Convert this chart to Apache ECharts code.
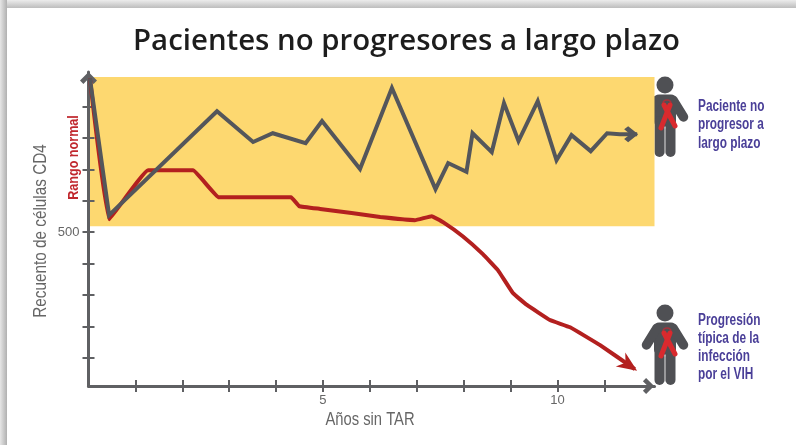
<!DOCTYPE html>
<html><head><meta charset="utf-8">
<style>html,body{margin:0;padding:0;background:#fff}#c{width:796px;height:445px}</style>
<script src="https://cdn.jsdelivr.net/npm/echarts@6/dist/echarts.min.js"></script>
</head><body><div id="c"></div>
<script>
// ----- data -----
const titleText = 'Pacientes no progresores a largo plazo';
const xAxisName = 'Años sin TAR';
const yAxisName = 'Recuento de células CD4';
const bandName = 'Rango normal';
const topPatientLabel = 'Paciente no\nprogresor a\nlargo plazo';
const lowPatientLabel = 'Progresión\ntípica de la\ninfección\npor el VIH';
const xTicks = [1,2,3,4,5,6,7,8,9,10,11];
const xLabels = [5,10];
const yTicks = [100,200,300,400,500,600,700,800,900];
const yLabels = [500];
const normalRange = [519,994];
const nonProgressor = [[0.03,990],[0.44,554],[2.74,885],[3.51,787],[3.93,815],[4.63,783],[4.98,854],[5.79,701],[6.47,959],[7.40,637],[7.67,720],[8.06,692],[8.19,815],[8.60,755],[8.86,911],[9.17,790],[9.58,917],[9.98,729],[10.30,809],[10.71,758],[11.06,815],[11.33,812],[11.70,812]];
const typical = [[0.03,990],[0.44,541],[1.27,697],[2.23,697],[2.78,611],[4.32,611],[4.49,583],[4.94,574],[5.61,561],[6.22,548],[6.96,538],[7.32,551],[7.56,532],[7.98,487],[8.41,430],[8.73,379],[9.05,306],[9.35,268],[9.84,220],[10.27,197],[10.91,140],[11.65,64]];
// ----- end of data -----

const XMAX = 12.07, YMIN = 10, YMAX = 1010;
const GRAY='#54565b', AXIS='#5f6063', RED='#b3201f', YEL='#fdd870', PUR='#4a3f98', TXT='#666666';
const SANS='"Liberation Sans",sans-serif';
const chevron='path://M0 10 L10 0 L20 10 L16 14 L10 8 L4 14 Z';
const chart=echarts.init(document.getElementById('c'),null,{renderer:'canvas'});

function person(cx,cy){
  const dark='#4f5054';
  const line=(pts,w,c)=>({type:'polyline',x:cx,y:cy,shape:{points:pts},style:{stroke:c||dark,lineWidth:w,lineCap:'round',lineJoin:'round',fill:null}});
  const curve=(x1,y1,x2,y2,a,b,c,d)=>({type:'bezierCurve',x:cx,y:cy,shape:{x1,y1,x2,y2,cpx1:a,cpy1:b,cpx2:c,cpy2:d},style:{stroke:'#a8323a',lineWidth:1.6,fill:null}});
  return [
    {type:'circle',x:cx,y:cy,shape:{r:8.5},style:{fill:dark}},
    {type:'rect',x:cx,y:cy,shape:{x:-11,y:9.5,width:22,height:32,r:5},style:{fill:dark}},
    line([[-8,15],[-18.5,32]],9.5), line([[8,15],[18.5,32]],9.5),
    line([[-5.5,36],[-5.5,67]],10), line([[5.5,36],[5.5,67]],10),
    line([[0,44],[0,68]],1,'#8a8a8c'),
    curve(2,27,2,15,-4,21,-3,15), curve(2,15,2,27,7,15,8,21),
    line([[-1,20],[10,41]],5,'#d92a2e'), line([[5,20],[-4,43]],5,'#d92a2e')
  ];
}
function side(text,x,y,lh){
  return {type:'text',x,y,scaleX:0.74,style:{text,fill:PUR,font:'bold 16px '+SANS,lineHeight:lh,textVerticalAlign:'top',textAlign:'left'}};
}

const baseX={type:'value',min:0,max:XMAX,z:2,splitLine:{show:false}};
const baseY={type:'value',min:YMIN,max:YMAX,z:2,splitLine:{show:false}};
chart.setOption({
  animation:false,
  backgroundColor:'#fff',
  title:{text:titleText,left:401.5,top:22,textAlign:'center',textStyle:{fontFamily:'"Open Sans",sans-serif',fontWeight:600,fontSize:29.4,color:'#1d1d1d'}},
  grid:{left:88.5,right:141.5,top:72,bottom:59},
  xAxis:[
    Object.assign({},baseX,{
      axisLine:{show:true,symbol:['none',chevron],symbolSize:[16,15],symbolOffset:[0,-6],lineStyle:{color:AXIS,width:3}},
      axisTick:{show:true,length:6,customValues:xTicks,lineStyle:{color:AXIS,width:2}},
      axisLabel:{customValues:xLabels,margin:8,fontFamily:SANS,fontSize:13,color:TXT}
    }),
    Object.assign({},baseX,{position:'bottom',axisLine:{show:false},axisLabel:{show:false},
      axisTick:{show:true,inside:true,length:6,customValues:xTicks,lineStyle:{color:AXIS,width:2}}})
  ],
  yAxis:[
    Object.assign({},baseY,{
      axisLine:{show:true,symbol:['none',chevron],symbolSize:[17,14],symbolOffset:[0,-6],lineStyle:{color:AXIS,width:3}},
      axisTick:{show:true,length:6,customValues:yTicks,lineStyle:{color:AXIS,width:2}},
      axisLabel:{customValues:yLabels,margin:9,fontFamily:SANS,fontSize:13,color:TXT}
    }),
    Object.assign({},baseY,{position:'left',axisLine:{show:false},axisLabel:{show:false},
      axisTick:{show:true,inside:true,length:6,customValues:yTicks,lineStyle:{color:AXIS,width:2}}})
  ],
  series:[
    {type:'line',name:'band',data:[],silent:true,markArea:{silent:true,z:0,itemStyle:{color:YEL,opacity:1},
      data:[[{xAxis:0,yAxis:normalRange[0]},{xAxis:XMAX,yAxis:normalRange[1]}]]}},
    {type:'line',name:'typical',z:3,data:typical,symbol:'none',smooth:0.08,lineStyle:{color:RED,width:4,join:'round'}},
    {type:'line',name:'nonProgressor',z:4,data:nonProgressor,symbol:'none',lineStyle:{color:GRAY,width:4,join:'miter'}},
    {type:'scatter',z:4,data:[nonProgressor[nonProgressor.length-1]],symbol:chevron,symbolSize:[16,14],symbolRotate:-90,symbolOffset:[-6,0],itemStyle:{color:GRAY,opacity:1}},
    {type:'scatter',z:3,data:[typical[typical.length-1]],symbol:'path://M10 0 L20 20 L10 14 L0 20 Z',symbolSize:[17,20],symbolRotate:-124,symbolOffset:[-6,-4],itemStyle:{color:RED,opacity:1}}
  ],
  graphic:{elements:[
    {type:'rect',x:0,y:0,z:-10,shape:{width:796,height:8},style:{fill:new echarts.graphic.LinearGradient(0,0,0,1,[{offset:0,color:'#ececec'},{offset:1,color:'#bdbdbd'}])}},
    {type:'rect',x:0,y:0,z:-10,shape:{width:7,height:445},style:{fill:new echarts.graphic.LinearGradient(0,0,1,0,[{offset:0,color:'#e6e6e6'},{offset:1,color:'#b0b0b0'}])}},
    {type:'text',x:73.5,y:157.5,rotation:Math.PI/2,scaleX:0.84,style:{text:bandName,fill:'#c0272d',font:'bold 15px '+SANS,textAlign:'center',textVerticalAlign:'middle'}},
    {type:'text',x:41,y:231,rotation:Math.PI/2,scaleX:0.85,style:{text:yAxisName,fill:TXT,font:'18px '+SANS,textAlign:'center',textVerticalAlign:'middle'}},
    {type:'text',x:370,y:420,scaleX:0.82,style:{text:xAxisName,fill:TXT,font:'18px '+SANS,textAlign:'center',textVerticalAlign:'middle'}},
    ...person(665,85),...person(665,313),
    side(topPatientLabel,698,97,18.5),
    side(lowPatientLabel,698,312,18)
  ]}
});
</script></body></html>
